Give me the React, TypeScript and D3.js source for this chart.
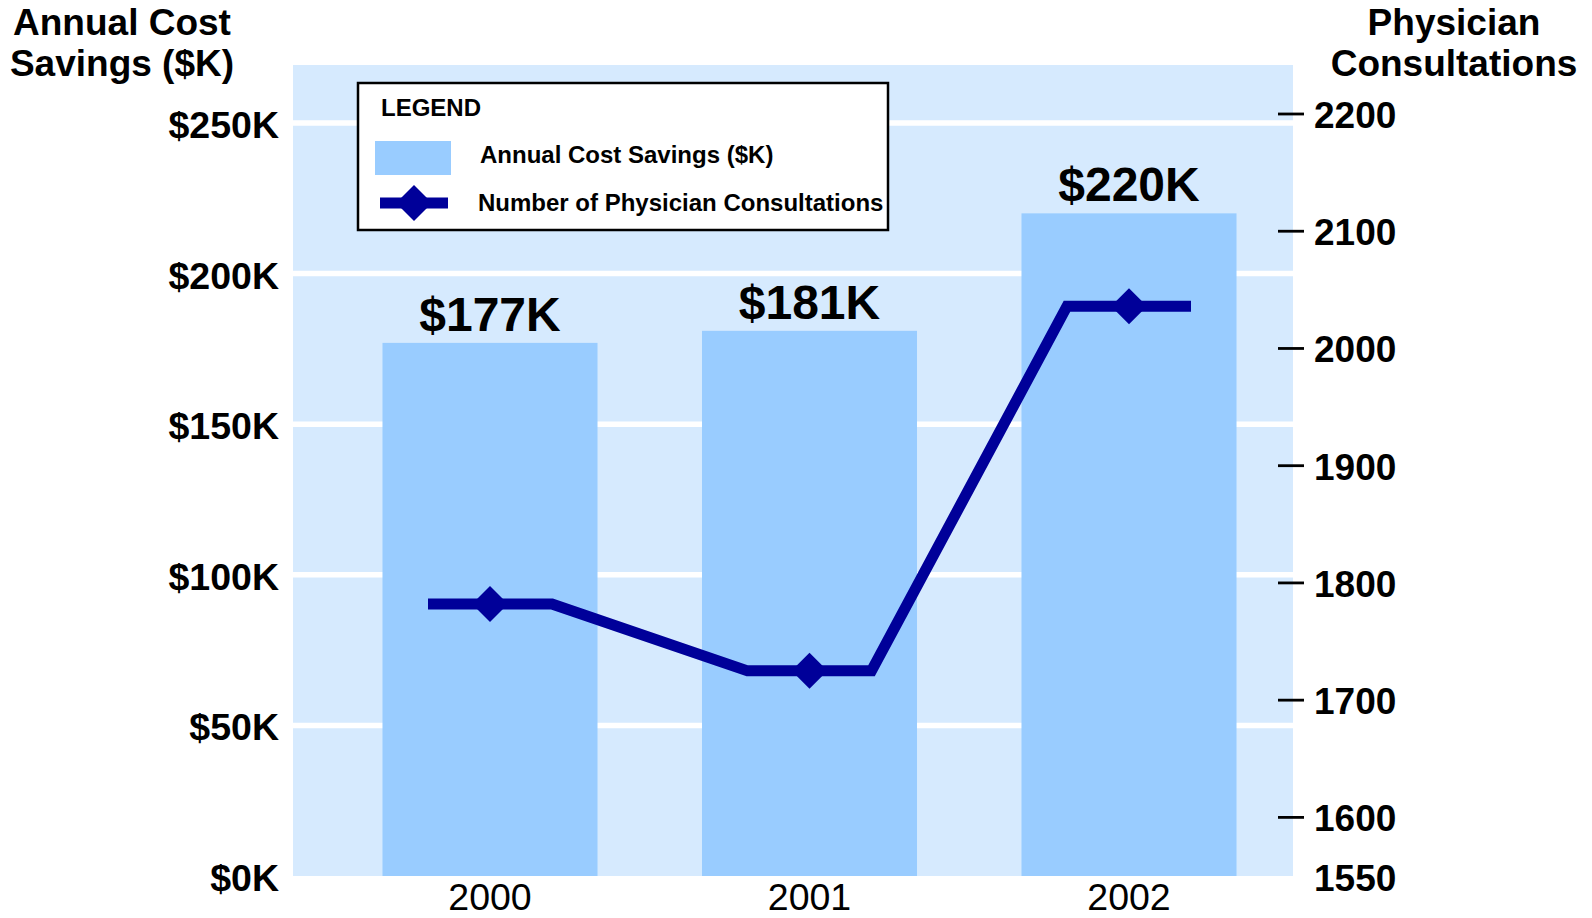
import React from "react";
import * as d3 from "d3";

const years = ["2000", "2001", "2002"];
const savings = [177, 181, 220];
const consultations = [1782, 1725, 2036];
const leftTicks = [0, 50, 100, 150, 200, 250];
const rightTicks = [1600, 1700, 1800, 1900, 2000, 2100, 2200];
const rightBottomLabel = 1550;

const FONT = "'Liberation Sans', Arial, Helvetica, sans-serif";
const BG = "#D6EAFE";
const BAR = "#99CCFF";
const LINE = "#000099";

export default function App() {
  React.useEffect(() => {
    document.body.style.margin = "0";
    document.body.style.overflow = "hidden";
  }, []);

  const W = 1592, H = 918;
  const plot = { x0: 293, x1: 1293, y0: 65, y1: 876 };

  const x = d3.scaleBand<string>().domain(years).range([330.25, 1288.75]).paddingInner(0.327).paddingOuter(0.1635);
  const yL = d3.scaleLinear().domain([0, 250]).range([876, 123]);
  const yR = d3.scaleLinear().domain([1550, 2200]).range([876, 114]);

  const half = 62;
  const pts: [number, number][] = [];
  years.forEach((yr, i) => {
    const cx = (x(yr) as number) + x.bandwidth() / 2;
    const cy = yR(consultations[i]);
    pts.push([cx - half, cy], [cx + half, cy]);
  });
  const lineGen = d3.line();
  const diamond = (cx: number, cy: number, r: number) =>
    `M${cx},${cy - r}L${cx + r},${cy}L${cx},${cy + r}L${cx - r},${cy}Z`;

  return (
    <svg width={W} height={H} style={{ position: "absolute", left: 0, top: 0, background: "#fff" }} fontFamily={FONT}>
      <rect x={plot.x0} y={plot.y0} width={plot.x1 - plot.x0} height={plot.y1 - plot.y0} fill={BG} />
      {leftTicks.filter((t) => t > 0).map((t) => (
        <line key={"g" + t} x1={plot.x0} x2={plot.x1} y1={yL(t)} y2={yL(t)} stroke="#fff" strokeWidth={5.5} />
      ))}
      {years.map((yr, i) => (
        <rect key={"b" + yr} x={x(yr)} y={yL(savings[i])} width={x.bandwidth()} height={yL(0) - yL(savings[i])} fill={BAR} />
      ))}
      {years.map((yr, i) => (
        <text key={"bl" + yr} x={(x(yr) as number) + x.bandwidth() / 2} y={yL(savings[i]) - 12} textAnchor="middle" fontSize={48} fontWeight="bold" fill="#000">
          {`$${savings[i]}K`}
        </text>
      ))}
      <path d={lineGen(pts) as string} fill="none" stroke={LINE} strokeWidth={11} strokeLinejoin="miter" />
      {years.map((yr, i) => (
        <path key={"d" + yr} d={diamond((x(yr) as number) + x.bandwidth() / 2, yR(consultations[i]), 18)} fill={LINE} />
      ))}
      {/* left axis */}
      {leftTicks.map((t) => (
        <text key={"lt" + t} x={279} y={yL(t) + 15} textAnchor="end" fontSize={37.5} fontWeight="bold">{`$${t}K`}</text>
      ))}
      {/* right axis */}
      {rightTicks.map((t) => (
        <g key={"rt" + t}>
          <line x1={1278} x2={1304} y1={yR(t)} y2={yR(t)} stroke="#000" strokeWidth={2.8} />
          <text x={1314} y={yR(t) + 14} fontSize={37} fontWeight="bold">{t}</text>
        </g>
      ))}
      <text x={1314} y={yR(rightBottomLabel) + 15} fontSize={37} fontWeight="bold">{rightBottomLabel}</text>
      {/* x axis labels */}
      {years.map((yr) => (
        <text key={"xl" + yr} x={(x(yr) as number) + x.bandwidth() / 2} y={910} textAnchor="middle" fontSize={37.5}>{yr}</text>
      ))}
      {/* axis titles */}
      <text x={122} y={35} textAnchor="middle" fontSize={37} fontWeight="bold">Annual Cost</text>
      <text x={122} y={76} textAnchor="middle" fontSize={37} fontWeight="bold">Savings ($K)</text>
      <text x={1454} y={35} textAnchor="middle" fontSize={37} fontWeight="bold">Physician</text>
      <text x={1454} y={76} textAnchor="middle" fontSize={37} fontWeight="bold">Consultations</text>
      {/* legend */}
      <rect x={358} y={83} width={530} height={147} fill="#fff" stroke="#000" strokeWidth={2.5} />
      <text x={381} y={116} fontSize={24} fontWeight="bold">LEGEND</text>
      <rect x={375} y={141} width={76} height={34} fill={BAR} />
      <text x={480} y={163} fontSize={24} fontWeight="bold">Annual Cost Savings ($K)</text>
      <line x1={380} x2={448} y1={203} y2={203} stroke={LINE} strokeWidth={11} />
      <path d={diamond(414, 203, 18)} fill={LINE} />
      <text x={478} y={211} fontSize={24} fontWeight="bold">Number of Physician Consultations</text>
    </svg>
  );
}
